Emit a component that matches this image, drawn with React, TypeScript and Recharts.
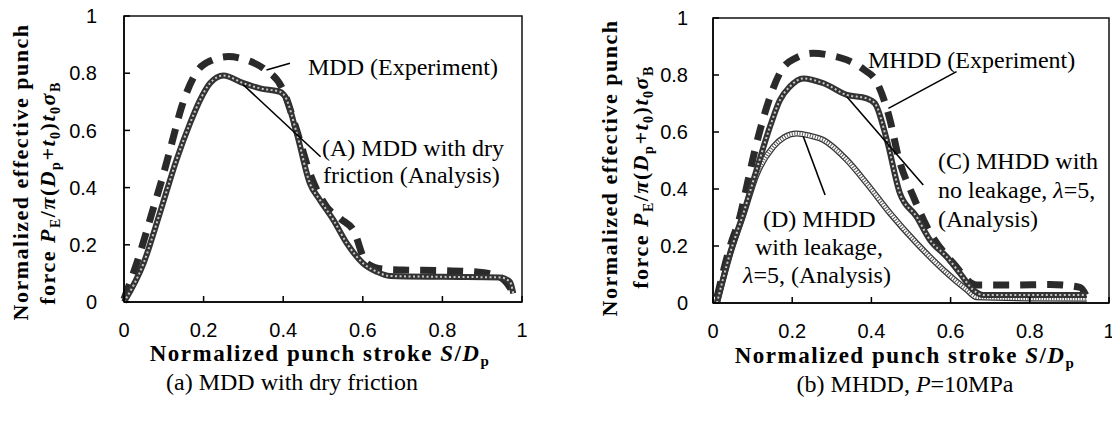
import React from 'react';
import { LineChart, Line, XAxis, YAxis, ReferenceArea, ReferenceLine } from 'recharts';

type Pt = { s: number; v: number };

const xTicks = [0, 0.2, 0.4, 0.6, 0.8, 1];
const yTicks = [0, 0.2, 0.4, 0.6, 0.8, 1];

// (a) MDD with dry friction
const mddExperiment: Pt[] = [
  { s: 0.0, v: 0.01 }, { s: 0.04, v: 0.17 }, { s: 0.07, v: 0.31 }, { s: 0.095, v: 0.427 },
  { s: 0.12, v: 0.555 }, { s: 0.145, v: 0.683 }, { s: 0.183, v: 0.805 }, { s: 0.22, v: 0.845 },
  { s: 0.262, v: 0.858 }, { s: 0.31, v: 0.845 }, { s: 0.35, v: 0.817 }, { s: 0.4, v: 0.74 },
  { s: 0.434, v: 0.6 }, { s: 0.467, v: 0.45 }, { s: 0.509, v: 0.333 }, { s: 0.545, v: 0.29 },
  { s: 0.576, v: 0.252 }, { s: 0.61, v: 0.135 }, { s: 0.65, v: 0.115 }, { s: 0.7, v: 0.112 },
  { s: 0.794, v: 0.11 }, { s: 0.886, v: 0.105 }, { s: 0.94, v: 0.09 }, { s: 0.97, v: 0.05 },
  { s: 0.978, v: 0.03 },
];
const mddAnalysisA: Pt[] = [
  { s: 0.0, v: 0.0 }, { s: 0.049, v: 0.135 }, { s: 0.09, v: 0.31 }, { s: 0.132, v: 0.497 },
  { s: 0.166, v: 0.625 }, { s: 0.191, v: 0.706 }, { s: 0.216, v: 0.765 }, { s: 0.25, v: 0.792 },
  { s: 0.3, v: 0.765 }, { s: 0.342, v: 0.747 }, { s: 0.392, v: 0.735 }, { s: 0.405, v: 0.718 },
  { s: 0.434, v: 0.59 }, { s: 0.467, v: 0.415 }, { s: 0.492, v: 0.357 }, { s: 0.526, v: 0.287 },
  { s: 0.56, v: 0.205 }, { s: 0.601, v: 0.135 }, { s: 0.635, v: 0.106 }, { s: 0.668, v: 0.091 },
  { s: 0.8, v: 0.088 }, { s: 0.945, v: 0.086 }, { s: 0.97, v: 0.07 }, { s: 0.978, v: 0.03 },
];
const mddLeaders = [
  [{ x: 0.358, y: 0.811 }, { x: 0.417, y: 0.835 }],
  [{ x: 0.3, y: 0.759 }, { x: 0.494, y: 0.508 }],
];

// (b) MHDD, P=10MPa
const mhddExperiment: Pt[] = [
  { s: 0.01, v: 0.02 }, { s: 0.043, v: 0.198 }, { s: 0.068, v: 0.303 }, { s: 0.085, v: 0.408 },
  { s: 0.106, v: 0.537 }, { s: 0.136, v: 0.689 }, { s: 0.173, v: 0.817 }, { s: 0.21, v: 0.86 },
  { s: 0.253, v: 0.876 }, { s: 0.3, v: 0.868 }, { s: 0.338, v: 0.853 }, { s: 0.38, v: 0.82 },
  { s: 0.413, v: 0.776 }, { s: 0.447, v: 0.642 }, { s: 0.468, v: 0.513 }, { s: 0.506, v: 0.373 },
  { s: 0.54, v: 0.268 }, { s: 0.607, v: 0.139 }, { s: 0.666, v: 0.063 }, { s: 0.758, v: 0.063 },
  { s: 0.851, v: 0.065 }, { s: 0.927, v: 0.055 }, { s: 0.944, v: 0.02 },
];
const mhddAnalysisC: Pt[] = [
  { s: 0.01, v: 0.0 }, { s: 0.043, v: 0.174 }, { s: 0.077, v: 0.315 }, { s: 0.11, v: 0.467 },
  { s: 0.144, v: 0.619 }, { s: 0.169, v: 0.712 }, { s: 0.194, v: 0.759 }, { s: 0.228, v: 0.788 },
  { s: 0.279, v: 0.771 }, { s: 0.338, v: 0.73 }, { s: 0.388, v: 0.718 }, { s: 0.409, v: 0.7 },
  { s: 0.439, v: 0.572 }, { s: 0.472, v: 0.385 }, { s: 0.514, v: 0.303 }, { s: 0.548, v: 0.221 },
  { s: 0.59, v: 0.162 }, { s: 0.624, v: 0.104 }, { s: 0.657, v: 0.046 }, { s: 0.683, v: 0.028 },
  { s: 0.8, v: 0.028 }, { s: 0.944, v: 0.028 },
];
const mhddAnalysisD: Pt[] = [
  { s: 0.01, v: 0.0 }, { s: 0.043, v: 0.17 }, { s: 0.077, v: 0.31 }, { s: 0.11, v: 0.45 },
  { s: 0.152, v: 0.548 }, { s: 0.18, v: 0.582 }, { s: 0.211, v: 0.595 }, { s: 0.245, v: 0.587 },
  { s: 0.279, v: 0.572 }, { s: 0.338, v: 0.502 }, { s: 0.388, v: 0.42 }, { s: 0.447, v: 0.315 },
  { s: 0.514, v: 0.21 }, { s: 0.582, v: 0.116 }, { s: 0.641, v: 0.046 }, { s: 0.666, v: 0.02 },
  { s: 0.8, v: 0.016 }, { s: 0.944, v: 0.015 },
];
const mhddLeaders = [
  [{ x: 0.443, y: 0.683 }, { x: 0.615, y: 0.812 }],
  [{ x: 0.338, y: 0.724 }, { x: 0.531, y: 0.414 }],
  [{ x: 0.228, y: 0.584 }, { x: 0.283, y: 0.379 }],
];

const SERIF = "'Liberation Serif', 'Times New Roman', serif";
const SANS = "'Liberation Sans', Arial, sans-serif";
const tickStyle = { fontSize: 20, fill: '#000', fontFamily: SANS };

function experimentLine(data: Pt[], id: string) {
  return (
    <Line key={id} data={data} dataKey="v" type="monotone" stroke="#2a2a2a" strokeWidth={7}
      strokeDasharray="16 11" dot={false} activeDot={false} isAnimationActive={false} />
  );
}
function beadLines(data: Pt[], id: string) {
  return [
    <Line key={id + 'a'} data={data} dataKey="v" type="monotone" stroke="#333" strokeWidth={6}
      dot={false} activeDot={false} isAnimationActive={false} />,
    <Line key={id + 'b'} data={data} dataKey="v" type="monotone" stroke="#c8c8c8" strokeWidth={2}
      strokeDasharray="2 2.5" dot={false} activeDot={false} isAnimationActive={false} />,
  ];
}
function hatchLines(data: Pt[], id: string) {
  return [
    <Line key={id + 'a'} data={data} dataKey="v" type="monotone" stroke="#333" strokeWidth={6}
      dot={false} activeDot={false} isAnimationActive={false} />,
    <Line key={id + 'b'} data={data} dataKey="v" type="monotone" stroke="#fff" strokeWidth={3.5}
      dot={false} activeDot={false} isAnimationActive={false} />,
    <Line key={id + 'c'} data={data} dataKey="v" type="monotone" stroke="#555" strokeWidth={3.5}
      strokeDasharray="1 1.6" dot={false} activeDot={false} isAnimationActive={false} />,
  ];
}

function Panel(props: {
  width: number; height: number;
  margin: { top: number; right: number; bottom: number; left: number };
  yTickMargin: number; leaders: { x: number; y: number }[][]; children: React.ReactNode;
}) {
  const { width, height, margin, yTickMargin, leaders, children } = props;
  return (
    <LineChart width={width} height={height} margin={margin}>
      <XAxis type="number" dataKey="s" domain={[0, 1]} ticks={xTicks} interval={0} height={40}
        tickSize={-6} tickMargin={27} axisLine={{ stroke: '#000', strokeWidth: 1.5 }}
        tickLine={{ stroke: '#000', strokeWidth: 1.5 }} tick={tickStyle} />
      <YAxis type="number" domain={[0, 1]} ticks={yTicks} interval={0} width={60}
        tickSize={-6} tickMargin={yTickMargin} axisLine={{ stroke: '#000', strokeWidth: 1.5 }}
        tickLine={{ stroke: '#000', strokeWidth: 1.5 }} tick={tickStyle} />
      <ReferenceArea x1={0} x2={1} y1={0} y2={1} fill="none" fillOpacity={0} stroke="#111" strokeWidth={1.5} />
      {children}
      {leaders.map((seg, i) => (
        <ReferenceLine key={'ld' + i} segment={seg} stroke="#000" strokeWidth={1.6} />
      ))}
    </LineChart>
  );
}

function YTitle({ x1, y1, x2, y2 }: { x1: number; y1: number; x2: number; y2: number }) {
  const common = { fontFamily: SERIF, fontWeight: 700, fontSize: 22, letterSpacing: 1.5, fill: '#000', textAnchor: 'middle' as const };
  return (
    <g>
      <text transform={`translate(${x1},${y1}) rotate(-90)`} {...common}>Normalized effective punch</text>
      <text transform={`translate(${x2},${y2}) rotate(-90)`} {...common}>
        {'force '}
        <tspan fontStyle="italic">P</tspan>
        <tspan fontSize={14} dy={5}>E</tspan>
        <tspan dy={-5}>/</tspan>
        <tspan fontStyle="italic">π</tspan>
        <tspan>(</tspan>
        <tspan fontStyle="italic">D</tspan>
        <tspan fontSize={14} dy={5}>p</tspan>
        <tspan dy={-5}>+</tspan>
        <tspan fontStyle="italic">t</tspan>
        <tspan fontSize={14} dy={5}>0</tspan>
        <tspan dy={-5}>)</tspan>
        <tspan fontStyle="italic">t</tspan>
        <tspan fontSize={14} dy={5}>0</tspan>
        <tspan dy={-5} fontStyle="italic">σ</tspan>
        <tspan fontSize={14} dy={5}>B</tspan>
      </text>
    </g>
  );
}

function XTitle({ x, y }: { x: number; y: number }) {
  return (
    <text x={x} y={y} fontFamily={SERIF} fontWeight={700} fontSize={23} letterSpacing={1.5} fill="#000" textAnchor="middle">
      {'Normalized punch stroke '}
      <tspan fontStyle="italic">S</tspan>
      <tspan>/</tspan>
      <tspan fontStyle="italic">D</tspan>
      <tspan fontSize={15} dy={5}>p</tspan>
    </text>
  );
}

export default function App() {
  const lbl = { fontFamily: SERIF, fontSize: 24, fill: '#000' };
  return (
    <div style={{ position: 'absolute', left: 0, top: 0, width: 1112, height: 422, background: '#fff', overflow: 'hidden' }}>
      <div style={{ position: 'absolute', left: 0, top: 0 }}>
        <Panel width={560} height={422} margin={{ top: 16, right: 38, bottom: 80, left: 64 }}
          yTickMargin={33} leaders={mddLeaders}>
          {experimentLine(mddExperiment, 'mddE')}
          {beadLines(mddAnalysisA, 'mddA')}
        </Panel>
      </div>
      <div style={{ position: 'absolute', left: 560, top: 0 }}>
        <Panel width={552} height={422} margin={{ top: 18, right: 3, bottom: 79, left: 93 }}
          yTickMargin={31} leaders={mhddLeaders}>
          {hatchLines(mhddAnalysisD, 'mhddD')}
          {experimentLine(mhddExperiment, 'mhddE')}
          {beadLines(mhddAnalysisC, 'mhddC')}
        </Panel>
      </div>
      <svg width={1112} height={422} style={{ position: 'absolute', left: 0, top: 0, pointerEvents: 'none' }}>
        <YTitle x1={28} y1={172} x2={55} y2={193} />
        <YTitle x1={617} y1={168} x2={648} y2={177} />
        <XTitle x={320} y={361} />
        <XTitle x={905} y={363} />
        <text x={292} y={390} {...lbl} textAnchor="middle">(a) MDD with dry friction</text>
        <text x={905} y={392} {...lbl} textAnchor="middle">
          {'(b) MHDD, '}<tspan fontStyle="italic">P</tspan>=10MPa
        </text>
        <text x={308} y={75} {...lbl}>MDD (Experiment)</text>
        <text x={322} y={156} {...lbl}>(A) MDD with dry</text>
        <text x={323} y={183} {...lbl}>friction (Analysis)</text>
        <text x={868} y={68} {...lbl}>MHDD (Experiment)</text>
        <text x={938} y={169} {...lbl}>(C) MHDD with</text>
        <text x={938} y={198} {...lbl}>
          {'no leakage, '}<tspan fontStyle="italic">λ</tspan>=5,
        </text>
        <text x={938} y={227} {...lbl}>(Analysis)</text>
        <text x={763} y={227} {...lbl}>(D) MHDD</text>
        <text x={755} y={255} {...lbl}>with leakage,</text>
        <text x={743} y={283} {...lbl}>
          <tspan fontStyle="italic">λ</tspan>=5, (Analysis)
        </text>
      </svg>
    </div>
  );
}
